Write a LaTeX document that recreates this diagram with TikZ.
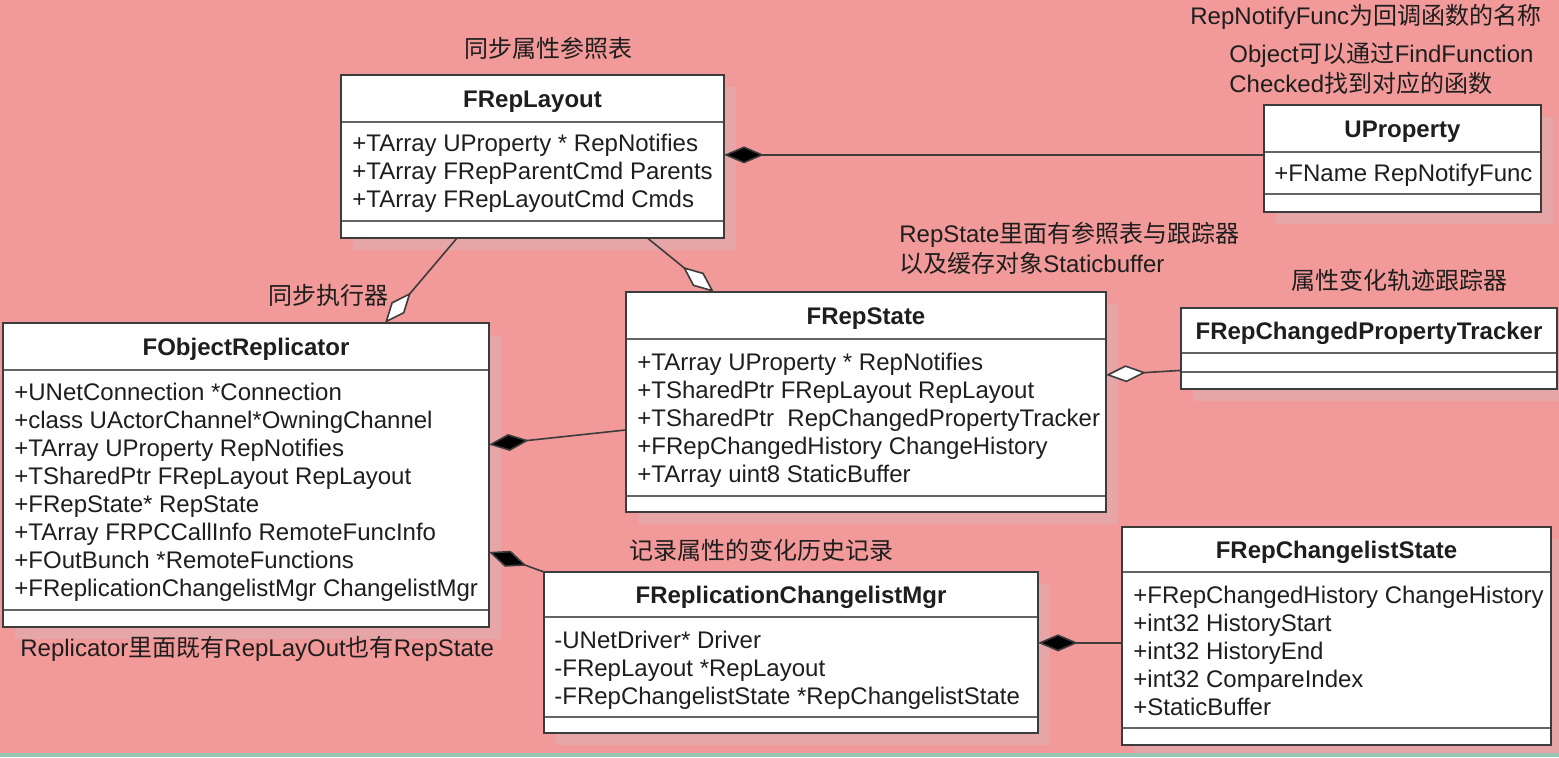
\documentclass[tikz,border=0pt]{standalone}
\usepackage{fontspec}
\setmainfont{Liberation Sans}
\newfontfamily\cjk{Noto Sans CJK SC}
\usetikzlibrary{arrows.meta,fit,calc}
\definecolor{bgpink}{RGB}{242,153,153}
\definecolor{shadowc}{RGB}{230,166,168}
\definecolor{boxline}{RGB}{60,60,60}
\definecolor{sepc}{RGB}{100,100,100}
\definecolor{txt}{RGB}{30,30,30}
\definecolor{greenline}{RGB}{150,198,178}
\newcommand{\umlclass}[8]{%
  \fill[shadowc] (#2+12,#3+12) rectangle (#4+12,#5+12);
  \node[classbox, fit={(#2,#3) (#4,#5)}] (#1) {};
  \draw[sepline] (#2,#6) -- (#4,#6);
  \draw[sepline] (#2,#7) -- (#4,#7);
  \draw[boxline, line width=0.8pt] (#2,#3) rectangle (#4,#5);
  \node[titletext, anchor=base] (#1-t) at ({(#2+#4)/2},{(#3+#6)/2+9}) {#8};
}
\newcommand{\umlattrs}[4]{%
  \foreach \txt [count=\i] in {#4}
    \node[attrtext, anchor=base west] (#1-\i) at (#2,{#3+28*(\i-1)}) {\txt};
}
\begin{document}
\begin{tikzpicture}[x=0.5pt,y=-0.5pt,
  classbox/.style={fill=white, inner sep=0pt, outer sep=0pt},
  sepline/.style={draw=sepc, line width=1.2pt},
  titletext/.style={font=\fontsize{12}{14}\selectfont\bfseries, text=txt, inner sep=0pt},
  attrtext/.style={font=\fontsize{12}{14}\selectfont, text=txt, inner sep=0pt},
  label/.style={font=\fontsize{12}{14}\selectfont, text=txt, inner sep=0pt, anchor=west},
  comp/.style={draw=boxline, line width=0.8pt, -{Diamond[length=20pt,width=8.5pt,fill=black]}},
  aggr/.style={draw=boxline, line width=0.8pt, -{Diamond[length=20pt,width=8.5pt,fill=white]}}
]
\useasboundingbox (0,0) rectangle (1559,757);
\fill[bgpink] (0,0) rectangle (1559,757);

% classes
\umlclass{layout}{341}{75}{724}{238}{122}{221}{FRepLayout}
\umlattrs{layout}{352}{151}{+TArray UProperty * RepNotifies,+TArray FRepParentCmd Parents,+TArray FRepLayoutCmd Cmds}

\umlclass{uprop}{1264}{105}{1541}{212}{152}{194}{UProperty}
\umlattrs{uprop}{1274}{181}{+FName RepNotifyFunc}

\umlclass{tracker}{1181}{308}{1557}{389}{353}{372}{FRepChangedPropertyTracker}

\umlclass{state}{626}{292}{1106}{512}{339}{496}{FRepState}
\umlattrs{state}{637}{370}{+TArray UProperty * RepNotifies,+TSharedPtr FRepLayout RepLayout,+TSharedPtr\ \ RepChangedPropertyTracker,+FRepChangedHistory ChangeHistory,+TArray uint8 StaticBuffer}

\umlclass{repl}{3}{323}{489}{627}{370}{610}{FObjectReplicator}
\umlattrs{repl}{14}{400}{+UNetConnection *Connection,+class UActorChannel*OwningChannel,+TArray UProperty RepNotifies,+TSharedPtr FRepLayout RepLayout,+FRepState* RepState,+TArray FRPCCallInfo RemoteFuncInfo,+FOutBunch *RemoteFunctions,+FReplicationChangelistMgr ChangelistMgr}

\umlclass{mgr}{544}{572}{1038}{733}{617}{717}{FReplicationChangelistMgr}
\umlattrs{mgr}{554}{648}{-UNetDriver* Driver,-FRepLayout *RepLayout,-FRepChangelistState *RepChangelistState}

\umlclass{cstate}{1122}{527}{1551}{745}{572}{728}{FRepChangelistState}
\umlattrs{cstate}{1133}{603}{+FRepChangedHistory ChangeHistory,+int32 HistoryStart,+int32 HistoryEnd,+int32 CompareIndex,+StaticBuffer}

% connectors
\coordinate (la) at ($(layout.south west)!0.303!(layout.south east)$);
\coordinate (rt) at ($(repl.north west)!0.786!(repl.north east)$);
\draw[aggr] (la) -- (rt);

\coordinate (lb) at ($(layout.south west)!0.8!(layout.south east)$);
\coordinate (st) at ($(state.north west)!0.183!(state.north east)$);
\draw[aggr] (lb) -- (st);

\coordinate (le) at ($(layout.north east)!0.49!(layout.south east)$);
\draw[comp] (le -| uprop.west) -- (le);

\coordinate (sl) at ($(state.north west)!0.627!(state.south west)$);
\coordinate (re) at ($(repl.north east)!0.40!(repl.south east)$);
\draw[comp] (sl) -- (re);

\coordinate (tw) at ($(tracker.north west)!0.77!(tracker.south west)$);
\coordinate (se) at ($(state.north east)!0.377!(state.south east)$);
\draw[aggr] (tw) -- (se);

\coordinate (rm) at ($(repl.north east)!0.753!(repl.south east)$);
\draw[comp] (mgr.north west) -- (rm);

\coordinate (me) at ($(mgr.north east)!0.44!(mgr.south east)$);
\draw[comp] (cstate.west |- me) -- (me);

% labels
\node[label, anchor=center] (t1) at (548,48) {\cjk 同步属性参照表};
\node[label] (t2) at (1190,17) {RepNotifyFunc{\cjk 为回调函数的名称}};
\node[label] (t3) at (1229,55) {Object{\cjk 可以通过}FindFunction};
\node[label] (t4) at (1229,83) {Checked{\cjk 找到对应的函数}};
\node[label] (t5) at (899,235) {RepState{\cjk 里面有参照表与跟踪器}};
\node[label] (t6) at (899,263) {{\cjk 以及缓存对象}Staticbuffer};
\node[label, anchor=center] (t7) at (1399,280) {\cjk 属性变化轨迹跟踪器};
\node[label, anchor=center] (t8) at (328,295) {\cjk 同步执行器};
\node[label] (t9) at (20,649) {Replicator{\cjk 里面既有}RepLayOut{\cjk 也有}RepState};
\node[label] (t10) at (629,550) {\cjk 记录属性的变化历史记录};

\fill[greenline] (0,753) rectangle (1559,757);
\end{tikzpicture}
\end{document}
